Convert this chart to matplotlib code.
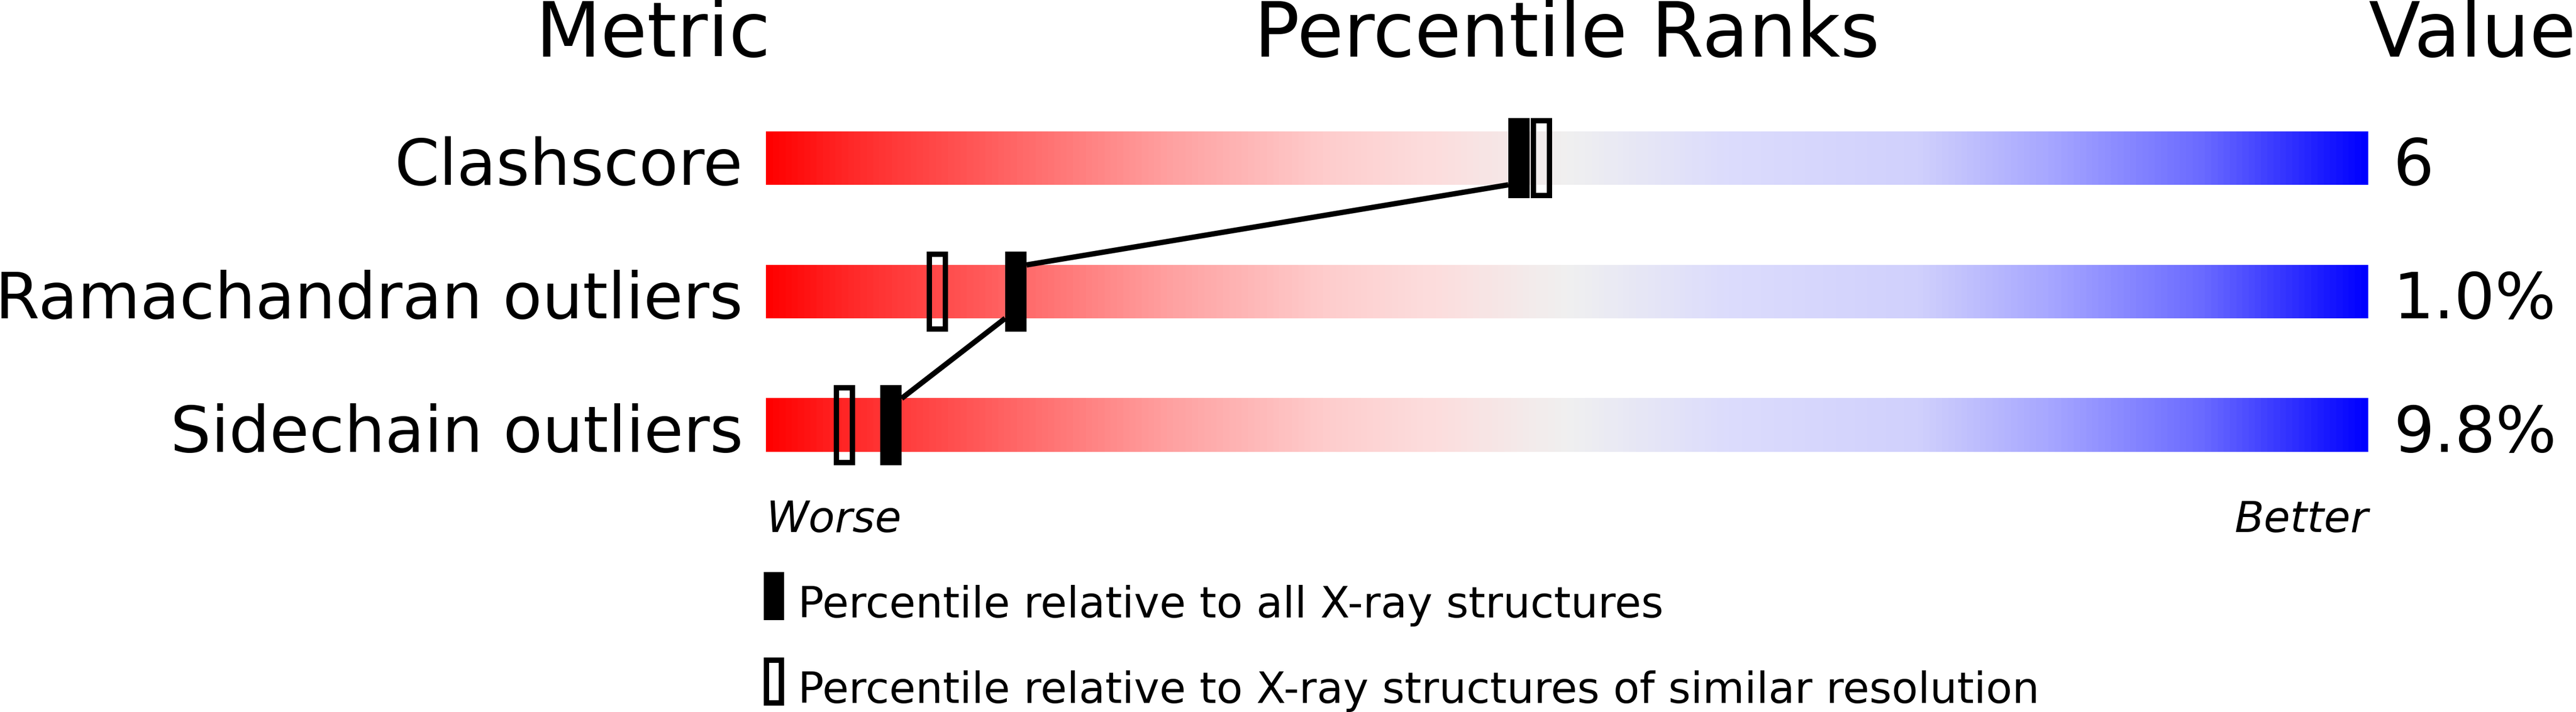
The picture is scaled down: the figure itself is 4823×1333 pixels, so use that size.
import numpy as np
import matplotlib
matplotlib.use('Agg')
import matplotlib.pyplot as plt
from matplotlib.colors import LinearSegmentedColormap
from matplotlib.patches import Rectangle

# data
metrics = ['Clashscore', 'Ramachandran outliers', 'Sidechain outliers']
values = ['6', '1.0%', '9.8%']
pct_all = [47.0, 15.6, 7.8]       # percentile vs all X-ray structures
pct_similar = [48.4, 10.7, 4.9]   # percentile vs similar resolution
legend_labels = ['Percentile relative to all X-ray structures',
                 'Percentile relative to X-ray structures of similar resolution']

# slider gradient, red (worse) -> grey -> blue (better)
stops = [(0.00, (255, 0, 0)), (0.05, (255, 40, 40)), (0.15, (255, 100, 100)),
         (0.25, (255, 160, 160)), (0.35, (254, 205, 205)), (0.42, (252, 222, 222)),
         (0.50, (240, 240, 240)), (0.60, (220, 220, 252)), (0.72, (208, 208, 252)),
         (0.80, (168, 168, 255)), (0.90, (105, 105, 255)), (1.00, (0, 0, 255))]
cmap = LinearSegmentedColormap.from_list(
    'slider', [(p, tuple(c / 255 for c in rgb)) for p, rgb in stops])

W, H = 4823, 1333
fig = plt.figure(figsize=(W / 100, H / 100), dpi=100)
# axes spans the slider width; x in percent, y in rows (row spacing 250 px)
x0, x1 = 1434, 4434
ax = fig.add_axes([x0 / W, 0, (x1 - x0) / W, 1])
ax.set_xlim(0, 100)
ax.set_ylim((H - 296) / 250, -296 / 250)
ax.axis('off')

bar_h = 0.4
gradient = np.linspace(0, 1, 1000).reshape(1, -1)
rows = np.arange(len(metrics))

for r in rows:
    ax.imshow(gradient, cmap=cmap, aspect='auto', interpolation='bilinear',
              extent=(0, 100, r + bar_h / 2, r - bar_h / 2), zorder=1)
    ax.text(-1.43, r + bar_h / 2, metrics[r], ha='right', va='baseline',
            fontsize=86.5, clip_on=False)
    ax.text(101.57, r + bar_h / 2, values[r], ha='left', va='baseline',
            fontsize=86.5, clip_on=False)

# markers
fw, fh = 40 / 30, 0.6          # filled marker
hw, hh = 30 / 30, 0.56         # hollow marker (edge centred on outline)
for r in rows:
    ax.add_patch(Rectangle((pct_all[r] - fw / 2, r - fh / 2), fw, fh,
                           facecolor='black', edgecolor='none', zorder=4))
    ax.add_patch(Rectangle((pct_similar[r] - hw / 2, r - hh / 2), hw, hh,
                           facecolor='none', edgecolor='black', lw=7.2, zorder=4))

# connecting line between the "all" markers
for r in rows[:-1]:
    ax.plot([pct_all[r] - fw / 2, pct_all[r + 1] + fw / 2],
            [r + bar_h / 2, r + 1 - bar_h / 2], color='black', lw=7.2,
            solid_capstyle='butt', zorder=3)

# headers
hy = (106 - 296) / 250
ax.text(0.3, hy, 'Metric', ha='right', va='baseline', fontsize=102, clip_on=False)
ax.text(50, hy, 'Percentile Ranks', ha='center', va='baseline', fontsize=102, clip_on=False)
ax.text(100.03, hy, 'Value', ha='left', va='baseline', fontsize=102, clip_on=False)

# worse / better
wy = (996 - 296) / 250
ax.text(0, wy, 'Worse', ha='left', va='baseline', fontsize=58, style='italic', clip_on=False)
ax.text(100, wy, 'Better', ha='right', va='baseline', fontsize=58, style='italic', clip_on=False)

# legend
ly = [(1116 - 296) / 250, (1276 - 296) / 250]
ax.add_patch(Rectangle((-0.13, ly[0] - 0.18), 38 / 30, 0.36,
                       facecolor='black', edgecolor='none', clip_on=False))
ax.add_patch(Rectangle((-0.13 + 5 / 30, ly[1] - 0.18 + 5 / 250), 28 / 30, 0.36 - 10 / 250,
                       facecolor='none', edgecolor='black', lw=7.2, clip_on=False))
for y, lab in zip(ly, legend_labels):
    ax.text(2.0, y + 0.16, lab, ha='left', va='baseline', fontsize=58, clip_on=False)

fig.savefig('out.png', dpi=100, facecolor='white')
